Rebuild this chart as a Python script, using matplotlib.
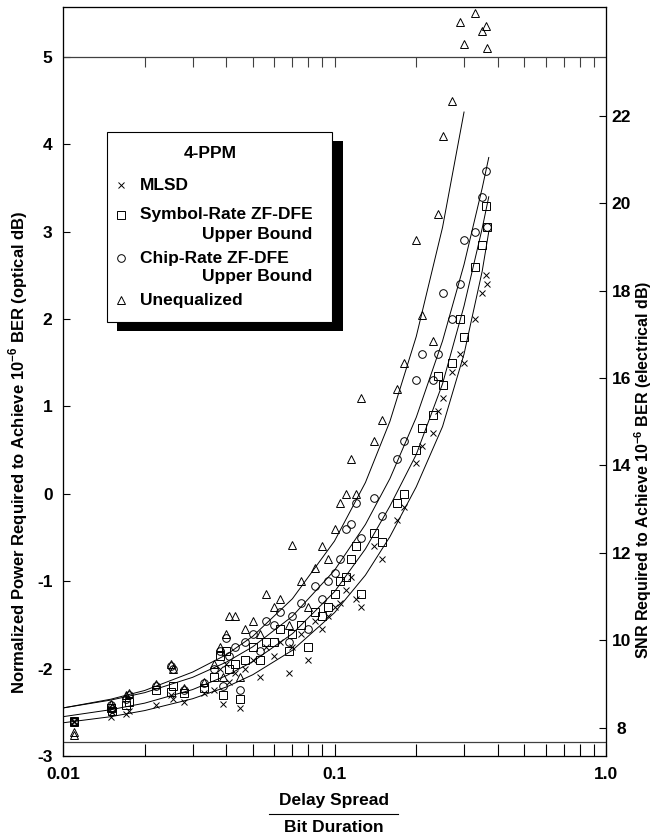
import matplotlib
matplotlib.use("Agg")
import matplotlib.pyplot as plt
from matplotlib.patches import Rectangle
from matplotlib.lines import Line2D
from matplotlib.ticker import FixedLocator, FixedFormatter, NullFormatter

plt.rcParams['font.family'] = ['Liberation Sans', 'DejaVu Sans']
plt.rcParams['font.weight'] = 'bold'
plt.rcParams['axes.unicode_minus'] = False
plt.rcParams['mathtext.fontset'] = 'custom'
plt.rcParams['mathtext.rm'] = 'Liberation Sans:bold'
plt.rcParams['mathtext.bf'] = 'Liberation Sans:bold'

# ---------------- data ----------------
# delay spread / bit duration of each measured channel
delay = [0.011, 0.011, 0.015, 0.0152, 0.017, 0.0175, 0.022, 0.025, 0.0255, 0.028,
         0.033, 0.036, 0.038, 0.039, 0.040, 0.041, 0.043, 0.045, 0.047, 0.050,
         0.053, 0.056, 0.060, 0.063, 0.068, 0.070, 0.075, 0.080, 0.085, 0.090,
         0.095, 0.100, 0.105, 0.110, 0.115, 0.120, 0.125, 0.140, 0.150, 0.170,
         0.180, 0.200, 0.210, 0.230, 0.240, 0.250, 0.270, 0.290, 0.300, 0.330,
         0.350, 0.360, 0.365]
mlsd = [-2.60, -2.61, -2.55, -2.50, -2.52, -2.48, -2.42, -2.30, -2.35, -2.38,
        -2.28, -2.25, -2.00, -2.40, -1.95, -2.15, -2.05, -2.45, -2.00, -1.90,
        -2.10, -1.75, -1.85, -1.70, -2.05, -1.75, -1.60, -1.90, -1.45, -1.55,
        -1.40, -1.30, -1.25, -1.10, -0.95, -1.20, -1.30, -0.60, -0.75, -0.30,
        -0.15, 0.35, 0.55, 0.70, 0.95, 1.10, 1.40, 1.60, 1.50, 2.00,
        2.30, 2.50, 2.40]
symbol_rate = [-2.60, -2.61, -2.45, -2.48, -2.42, -2.38, -2.25, -2.27, -2.20, -2.28,
               -2.22, -2.10, -1.85, -2.30, -1.80, -2.00, -1.95, -2.35, -1.90, -1.75,
               -1.90, -1.70, -1.70, -1.55, -1.80, -1.60, -1.50, -1.75, -1.35, -1.40,
               -1.30, -1.15, -1.00, -0.95, -0.75, -0.60, -1.15, -0.45, -0.55, -0.10,
               0.00, 0.50, 0.75, 0.90, 1.35, 1.25, 1.50, 2.00, 1.80, 2.60,
               2.85, 3.30, 3.05]
chip_rate = [-2.60, -2.61, -2.42, -2.46, -2.35, -2.30, -2.20, -1.97, -2.00, -2.25,
             -2.17, -2.00, -1.80, -2.20, -1.65, -1.85, -1.75, -2.25, -1.70, -1.60,
             -1.80, -1.45, -1.50, -1.35, -1.70, -1.40, -1.25, -1.55, -1.05, -1.20,
             -1.00, -0.90, -0.75, -0.40, -0.35, -0.10, -0.50, -0.05, -0.25, 0.40,
             0.60, 1.30, 1.60, 1.30, 1.60, 2.30, 2.00, 2.40, 2.90, 3.00,
             3.40, 3.70, 3.05]
unequalized = [-2.73, -2.76, -2.40, -2.44, -2.30, -2.28, -2.18, -1.95, -2.00, -2.22,
               -2.15, -1.95, -1.75, -2.10, -1.60, -1.40, -1.40, -2.10, -1.55, -1.45,
               -1.60, -1.15, -1.30, -1.20, -1.50, -0.58, -1.00, -1.30, -0.85, -0.60,
               -0.75, -0.40, -0.10, 0.00, 0.40, 0.00, 1.10, 0.60, 0.85, 1.20,
               1.50, 2.90, 2.05, 1.75, 3.20, 4.10, 4.50, 5.40, 5.15, 5.50,
               5.30, 5.35, 5.10]

# fitted curves
curve_x = [0.01, 0.015, 0.02, 0.03, 0.04, 0.05, 0.07, 0.10, 0.13, 0.16, 0.20, 0.25, 0.30, 0.35, 0.37]
fit_mlsd = [-2.62, -2.55, -2.48, -2.345, -2.21, -2.07, -1.79, -1.36, -0.93, -0.49, 0.08, 0.77, 1.60, 2.55, 3.00]
fit_symbol = [-2.55, -2.47, -2.395, -2.24, -2.08, -1.92, -1.60, -1.12, -0.63, -0.14, 0.45, 1.26, 2.15, 3.04, 3.40]
fit_chip = [-2.45, -2.36, -2.275, -2.10, -1.925, -1.75, -1.40, -0.875, -0.35, 0.175, 0.875, 1.75, 2.625, 3.50, 3.85]
curve_x_uneq = [0.01, 0.015, 0.02, 0.03, 0.04, 0.05, 0.07, 0.10, 0.13, 0.16, 0.20, 0.25, 0.30]
fit_uneq = [-2.45, -2.35, -2.25, -2.04, -1.84, -1.63, -1.20, -0.54, 0.13, 0.83, 1.80, 3.05, 4.37]

x_ticks = [0.01, 0.1, 1.0]
x_ticklabels = ['0.01', '0.1', '1.0']
y_ticks = [-3, -2, -1, 0, 1, 2, 3, 4, 5]
elec_ticks = [8, 10, 12, 14, 16, 18, 20, 22]

# ---------------- figure ----------------
W, H = 657, 836
fig = plt.figure(figsize=(W / 100, H / 100), dpi=100)
L, R, T, B = 63, 606, 7, 756
ax = fig.add_axes([L / W, (H - B) / H, (R - L) / W, (B - T) / H])

ymin, ymax = -3.0, 5.572
ax.set_xscale('log')
ax.set_xlim(0.01, 1.0)
ax.set_ylim(ymin, ymax)

ax2 = ax.twinx()
ax2.set_ylim(2 * ymin + 13.35, 2 * ymax + 13.35)

lw = 0.7
ax.plot(curve_x, fit_mlsd, color='black', lw=lw)
ax.plot(curve_x, fit_symbol, color='black', lw=lw)
ax.plot(curve_x, fit_chip, color='black', lw=lw)
ax.plot(curve_x_uneq, fit_uneq, color='black', lw=lw)

ms = 5.5
ax.plot(delay, mlsd, ls='none', marker='x', ms=4, mew=0.7, color='black')
ax.plot(delay, symbol_rate, ls='none', marker='s', ms=ms, mew=0.7, mfc='none', mec='black')
ax.plot(delay, chip_rate, ls='none', marker='o', ms=ms, mew=0.7, mfc='none', mec='black')
ax.plot(delay, unequalized, ls='none', marker='^', ms=ms, mew=0.7, mfc='none', mec='black')

# inner horizontal rules
ax.axhline(5, color='0.25', lw=0.9)
ax.axhline(-2.84, color='0.25', lw=0.9)

# x ticks
minor = [m * d for d in (0.01, 0.1) for m in range(2, 10)]
ax.xaxis.set_major_locator(FixedLocator(x_ticks))
ax.xaxis.set_major_formatter(FixedFormatter(x_ticklabels))
ax.xaxis.set_minor_locator(FixedLocator(minor))
ax.xaxis.set_minor_formatter(NullFormatter())
ax.tick_params(axis='x', which='both', direction='in', length=9, width=0.8,
               labelsize=12.5, pad=8, top=False)
# tick marks hanging from the y=5 rule
tick_h = 10 / ((B - T) / (ymax - ymin))
ax.vlines(minor + [0.1], 5 - tick_h, 5, color='0.25', lw=0.8)

ax.set_yticks(y_ticks)
ax.set_yticklabels([str(v) for v in y_ticks])
ax.tick_params(axis='y', which='both', direction='in', length=5, width=0.8,
               labelsize=12.5, pad=7.5, right=False)
for s in ax.spines.values():
    s.set_linewidth(0.9)
    s.set_color('0.2')

ax2.set_yticks(elec_ticks)
ax2.set_yticklabels([str(v) for v in elec_ticks])
ax2.tick_params(axis='y', direction='in', length=5, width=0.8, labelsize=12.5, pad=11)
for t in ax2.get_yticklabels():
    t.set_horizontalalignment('center')

# axis labels
fig.text(18 / W, 1 - 452 / H,
         r'Normalized Power Required to Achieve 10$^{\mathbf{-6}}$ BER (optical dB)',
         rotation=90, ha='center', va='center', fontsize=12, fontweight='bold')
fig.text(643 / W, 1 - 470 / H,
         r'SNR Required to Achieve 10$^{\mathbf{-6}}$ BER (electrical dB)',
         rotation=90, ha='center', va='center', fontsize=11.5, fontweight='bold')
fig.text(334 / W, 1 - 800 / H, 'Delay Spread', ha='center', va='center',
         fontsize=12.5, fontweight='bold')
fig.add_artist(Line2D([269 / W, 398 / W], [1 - 814 / H, 1 - 814 / H], color='black',
                      lw=0.8, transform=fig.transFigure))
fig.text(334 / W, 1 - 828 / H, 'Bit Duration', ha='center', va='center',
         fontsize=12.5, fontweight='bold')

# legend box with drop shadow
def px_rect(x0, y0, x1, y1, **kw):
    return Rectangle((x0 / W, 1 - y1 / H), (x1 - x0) / W, (y1 - y0) / H,
                     transform=fig.transFigure, **kw)

fig.add_artist(px_rect(117, 141, 343, 331, facecolor='black', edgecolor='none', zorder=10))
fig.add_artist(px_rect(107, 132, 332, 322, facecolor='white', edgecolor='black',
                       lw=0.8, zorder=11))

fs = 12.5
fig.text(210 / W, 1 - 153 / H, '4-PPM', ha='center', va='center', fontsize=fs,
         fontweight='bold', zorder=12)
rows = [('x', 185, 'MLSD', None),
        ('s', 215, 'Symbol-Rate ZF-DFE', 234),
        ('o', 258, 'Chip-Rate ZF-DFE', 277),
        ('^', 300, 'Unequalized', None)]
for mk, yy, label, y2 in rows:
    fig.add_artist(Line2D([121 / W], [1 - yy / H], marker=mk, ms=4 if mk == 'x' else 5.5,
                          mew=0.7, mfc='none', mec='black', ls='none',
                          transform=fig.transFigure, zorder=12))
    fig.text(140 / W, 1 - yy / H, label, ha='left', va='center', fontsize=fs,
             fontweight='bold', zorder=12)
    if y2 is not None:
        fig.text(202 / W, 1 - y2 / H, 'Upper Bound', ha='left', va='center', fontsize=fs,
                 fontweight='bold', zorder=12)

fig.savefig('out.png', dpi=100)
